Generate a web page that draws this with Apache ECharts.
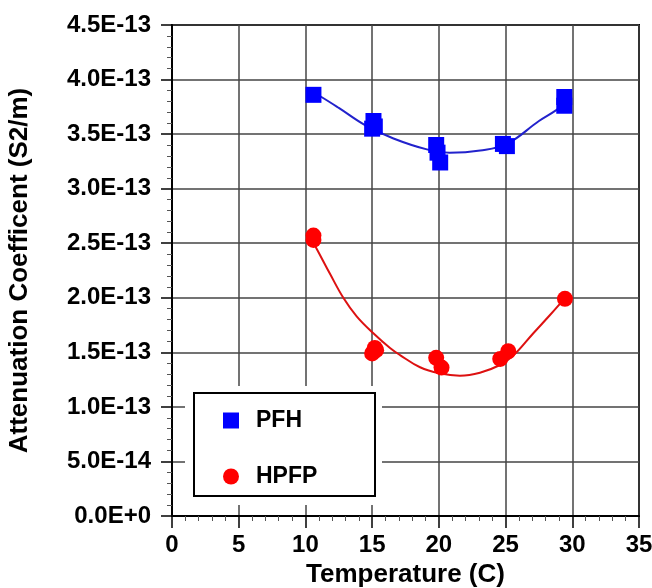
<!DOCTYPE html>
<html>
<head>
<meta charset="utf-8">
<script src="https://cdn.jsdelivr.net/npm/echarts@6/dist/echarts.min.js"></script>
<style>
  html, body { margin: 0; padding: 0; background: #fff; }
  #main { width: 652px; height: 588px; }
</style>
</head>
<body>
<div id="main"></div>
<script>
// measured points (temperature C, attenuation S2/m)
var pfhX = [10.6, 15.0, 15.1, 15.2, 19.8, 19.9, 20.1, 24.8, 25.1, 29.4, 29.4]
var pfhY = [3.86e-13, 3.55e-13, 3.62e-13, 3.57e-13, 3.40e-13, 3.33e-13, 3.24e-13, 3.41e-13, 3.39e-13, 3.84e-13, 3.76e-13]
var hpfpX = [10.6, 10.6, 15.0, 15.2, 15.3, 19.8, 20.2, 24.6, 25.2, 29.45]
var hpfpY = [2.57e-13, 2.53e-13, 1.49e-13, 1.54e-13, 1.52e-13, 1.45e-13, 1.36e-13, 1.44e-13, 1.51e-13, 1.99e-13]
// fitted curves
var pfhFitX = [10.6, 11.2, 12.5, 14.5, 16.6, 19.1, 20.8, 23.1, 25.1, 27.5, 28.8, 29.4]
var pfhFitY = [3.88e-13, 3.84e-13, 3.74e-13, 3.58e-13, 3.46e-13, 3.36e-13, 3.33e-13, 3.35e-13, 3.41e-13, 3.62e-13, 3.72e-13, 3.78e-13]
var hpfpFitX = [10.6, 10.84, 11.84, 12.84, 13.84, 15.09, 16.34, 17.09, 18.59, 20.03, 21.58, 23.08, 24.58, 25.58, 27.08, 28.33, 29.4]
var hpfpFitY = [2.50e-13, 2.45e-13, 2.22e-13, 2.00e-13, 1.83e-13, 1.675e-13, 1.54e-13, 1.475e-13, 1.363e-13, 1.308e-13, 1.286e-13, 1.313e-13, 1.384e-13, 1.47e-13, 1.675e-13, 1.842e-13, 1.99e-13]
var names = ['PFH', 'HPFP']

function zip (xs, ys) {
  return xs.map(function (x, i) { return [x, ys[i]] })
}

var font = '"Liberation Sans", Arial, Helvetica, sans-serif'
var chart = echarts.init(document.getElementById('main'))
chart.setOption({
  animation: false,
  backgroundColor: '#fff',
  grid: {
    left: 172, right: 13, top: 25, bottom: 72,
    show: true, borderColor: '#000', borderWidth: 2,
    outerBoundsMode: 'none'
  },
  legend: {
    data: [
      { name: names[0], icon: 'rect' },
      { name: names[1], icon: 'circle' }
    ],
    orient: 'vertical',
    left: 218, top: 404,
    itemWidth: 16, itemHeight: 16, itemGap: 33,
    z: 10,
    textStyle: { fontFamily: font, fontWeight: 'bold', fontSize: 23, color: '#000', padding: [0, 0, 0, 12] }
  },
  graphic: [
    { type: 'rect', z: 8, shape: { x: 185, y: 386, width: 197, height: 119 }, style: { fill: '#fff' } },
    { type: 'rect', z: 9, shape: { x: 194, y: 393, width: 181, height: 103 }, style: { fill: '#fff', stroke: '#000', lineWidth: 2 } }
  ],
  xAxis: {
    type: 'value', min: 0, max: 35, interval: 5,
    name: 'Temperature (C)', nameLocation: 'middle', nameGap: 43,
    nameTextStyle: { fontFamily: font, fontWeight: 'bold', fontSize: 26, color: '#000' },
    axisLine: { show: true, lineStyle: { color: '#000', width: 2 } },
    axisTick: { show: true, length: 12, lineStyle: { color: '#000', width: 1.5 } },
    minorTick: { show: true, splitNumber: 5, length: 5, lineStyle: { color: '#555', width: 1 } },
    axisLabel: { fontFamily: font, fontWeight: 'bold', fontSize: 24, color: '#000', margin: 17 },
    splitLine: { show: true, lineStyle: { color: '#444', width: 1.5 } }
  },
  yAxis: {
    type: 'value', min: 0, max: 4.5e-13, interval: 5e-14,
    name: 'Attenuation Coefficent (S2/m)', nameLocation: 'middle', nameGap: 139,
    nameTextStyle: { fontFamily: font, fontWeight: 'bold', fontSize: 26, color: '#000' },
    axisLine: { show: true, lineStyle: { color: '#000', width: 2 } },
    axisTick: { show: true, length: 11, lineStyle: { color: '#000', width: 1.5 } },
    minorTick: { show: true, splitNumber: 5, length: 5, lineStyle: { color: '#555', width: 1 } },
    axisLabel: {
      fontFamily: font, fontWeight: 'bold', fontSize: 24, color: '#000', margin: 21,
      formatter: function (v) { return v.toExponential(1).toUpperCase() }
    },
    splitLine: { show: true, lineStyle: { color: '#444', width: 1.5 } }
  },
  series: [
    {
      name: names[0] + ' fit', type: 'line', data: zip(pfhFitX, pfhFitY), smooth: 0.4,
      showSymbol: false, symbol: 'none', lineStyle: { color: '#2222cc', width: 2 }, z: 2
    },
    {
      name: names[1] + ' fit', type: 'line', data: zip(hpfpFitX, hpfpFitY), smooth: 0.4,
      showSymbol: false, symbol: 'none', lineStyle: { color: '#dd1111', width: 2 }, z: 2
    },
    {
      name: names[0], type: 'scatter', data: zip(pfhX, pfhY), symbol: 'rect', symbolSize: 16,
      itemStyle: { color: '#0000ff', opacity: 1 }, z: 3
    },
    {
      name: names[1], type: 'scatter', data: zip(hpfpX, hpfpY), symbol: 'circle', symbolSize: 16,
      itemStyle: { color: '#ff0000', opacity: 1 }, z: 3
    }
  ]
})
</script>
</body>
</html>
